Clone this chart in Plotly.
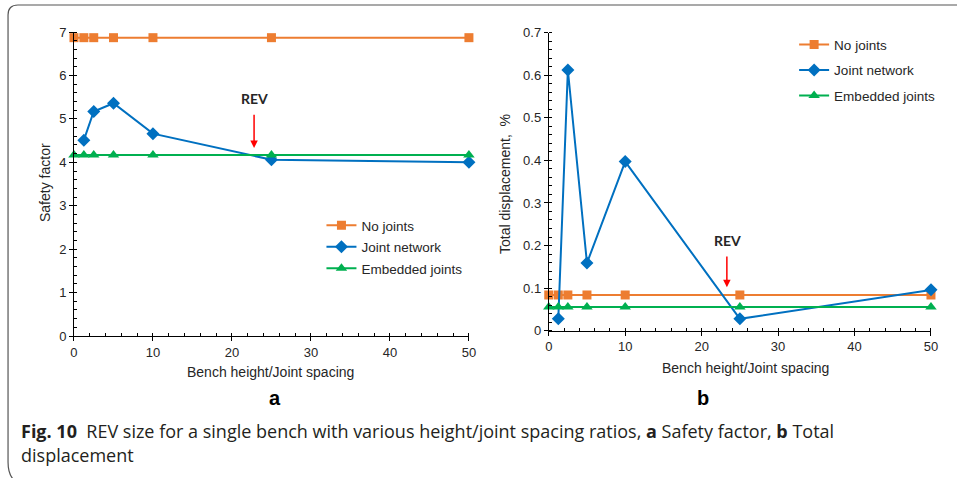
import plotly.graph_objects as go

# Bench height / joint spacing ratios
ratio = [0, 1.25, 2.5, 5, 10, 25, 50]
ratio_joint = [1.25, 2.5, 5, 10, 25, 50]

# (a) Safety factor
sf_no_joints = [6.87, 6.87, 6.87, 6.87, 6.87, 6.87, 6.87]
sf_joint_network = [4.51, 5.17, 5.36, 4.66, 4.06, 4.00]
sf_embedded = [4.17, 4.17, 4.17, 4.17, 4.17, 4.17, 4.17]

# (b) Total displacement, %
td_no_joints = [0.084, 0.084, 0.084, 0.084, 0.084, 0.084, 0.084]
td_joint_network = [0.028, 0.612, 0.159, 0.397, 0.028, 0.096]
td_embedded = [0.056, 0.056, 0.056, 0.056, 0.056, 0.056, 0.056]

series_names = ["No joints", "Joint network", "Embedded joints"]

ORANGE = "#ED7D31"
BLUE = "#0070C0"
GREEN = "#00B050"
TXT = "#262626"
AXFONT = "Liberation Sans, Arial, sans-serif"
W, H = 957, 478

fig = go.Figure()


def add_series(x, y, name, color, symbol, size, xa, ya, legend):
    fig.add_trace(go.Scatter(
        x=x, y=y, name=name, mode="lines+markers",
        line=dict(color=color, width=2),
        marker=dict(color=color, symbol=symbol, size=size),
        xaxis=xa, yaxis=ya, legend=legend, legendgroup=legend + name,
        cliponaxis=False,
    ))


add_series(ratio, sf_no_joints, series_names[0], ORANGE, "square", 9, "x", "y", "legend")
add_series(ratio_joint, sf_joint_network, series_names[1], BLUE, "diamond", 10, "x", "y", "legend")
add_series(ratio, sf_embedded, series_names[2], GREEN, "triangle-up", 10, "x", "y", "legend")

add_series(ratio, td_no_joints, series_names[0], ORANGE, "square", 9, "x2", "y2", "legend2")
add_series(ratio_joint, td_joint_network, series_names[1], BLUE, "diamond", 10, "x2", "y2", "legend2")
add_series(ratio, td_embedded, series_names[2], GREEN, "triangle-up", 10, "x2", "y2", "legend2")

axis_common = dict(
    showline=True, linecolor="black", linewidth=1,
    ticks="outside", ticklen=4, tickcolor="black", tickwidth=1,
    showgrid=False, zeroline=False,
    tickfont=dict(family=AXFONT, size=13, color=TXT),
)

fig.update_layout(
    width=W, height=H,
    margin=dict(l=0, r=0, t=0, b=0, autoexpand=False),
    paper_bgcolor="white", plot_bgcolor="white",
    xaxis=dict(domain=[0.0773, 0.490], range=[0, 50], dtick=10,
               minor=dict(dtick=2, ticks="inside", ticklen=3, tickcolor="black"),
               anchor="y", **axis_common),
    yaxis=dict(domain=[0.297, 0.933], range=[0, 7], dtick=1,
               minor=dict(dtick=0.2, ticks="inside", ticklen=3, tickcolor="black"),
               anchor="x", **axis_common),
    xaxis2=dict(domain=[0.5734, 0.9728], range=[0, 50], dtick=10,
                minor=dict(dtick=2, ticks="inside", ticklen=3, tickcolor="black"),
                anchor="y2", **axis_common),
    yaxis2=dict(domain=[0.308, 0.932], range=[0, 0.7], dtick=0.1,
                minor=dict(dtick=0.02, ticks="inside", ticklen=3, tickcolor="black"),
                anchor="x2", **axis_common),
    legend=dict(x=0.3359, y=0.5607, xanchor="left", yanchor="top",
                bgcolor="rgba(0,0,0,0)", tracegroupgap=1,
                font=dict(family=AXFONT, size=13.5, color=TXT)),
    legend2=dict(x=0.8298, y=0.939, xanchor="left", yanchor="top",
                 bgcolor="rgba(0,0,0,0)", tracegroupgap=5,
                 font=dict(family=AXFONT, size=13.5, color=TXT)),
    showlegend=True,
)


def label(text, px, py, size=14, angle=0, family=AXFONT, color=TXT):
    """Centered text placed by pixel position within the figure."""
    fig.add_annotation(text=text, x=px / W, y=1 - py / H, xref="paper", yref="paper",
                       xanchor="center", yanchor="middle", textangle=angle,
                       showarrow=False, font=dict(family=family, size=size, color=color))


# Axis titles and panel letters
label("Safety factor", 45, 183, angle=-90)
label("Total displacement,  %", 505, 184, angle=-90)
label("Bench height/Joint spacing", 270, 372)
label("Bench height/Joint spacing", 745, 368)
label("<b>a</b>", 275, 398, size=20, color="black")
label("<b>b</b>", 703, 398, size=20, color="black")

# REV markers (red arrows) on both panels
fig.add_annotation(x=22.8, y=4.33, ax=22.8, ay=5.13, xref="x", yref="y", axref="x", ayref="y",
                   showarrow=True, arrowhead=2, arrowsize=1, arrowwidth=1.5, arrowcolor="#FF0000",
                   text="")
fig.add_annotation(x=22.9, y=5.47, xref="x", yref="y", text="<b>REV</b>", showarrow=False,
                   font=dict(family="Lato, Open Sans, sans-serif", size=14, color=TXT))
fig.add_annotation(x=23.3, y=0.102, ax=23.3, ay=0.178, xref="x2", yref="y2", axref="x2", ayref="y2",
                   showarrow=True, arrowhead=2, arrowsize=1, arrowwidth=1.5, arrowcolor="#FF0000",
                   text="")
fig.add_annotation(x=23.4, y=0.213, xref="x2", yref="y2", text="<b>REV</b>", showarrow=False,
                   font=dict(family="Lato, Open Sans, sans-serif", size=14, color=TXT))

# Figure caption (two lines)
caption_font = dict(family="Open Sans, sans-serif", size=18, color="#231F20")
fig.add_annotation(
    text="<b>Fig. 10</b>  REV size for a single bench with various height/joint spacing ratios, "
         "<b>a</b> Safety factor, <b>b</b> Total",
    x=19 / W, y=1 - 431 / H, xref="paper", yref="paper", xanchor="left", yanchor="middle",
    align="left", showarrow=False, font=caption_font,
)
fig.add_annotation(
    text="displacement",
    x=19 / W, y=1 - 455 / H, xref="paper", yref="paper", xanchor="left", yanchor="middle",
    align="left", showarrow=False, font=caption_font,
)

# Rounded frame around the figure
fig.add_shape(type="path", xref="paper", yref="paper",
              path="M 1.0,0.9895 L 0.0188,0.9895 Q 0.0084,0.9895 0.0084,0.9686 "
                   "L 0.0084,0.0335 Q 0.0084,0.0 0.0188,-0.01",
              line=dict(color="#555555", width=1.2))

fig.write_html("out.html")
